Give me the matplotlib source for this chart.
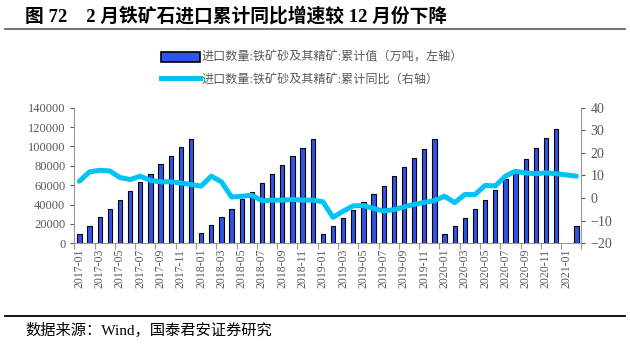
# -*- coding: utf-8 -*-
import matplotlib
matplotlib.use("Agg")
import matplotlib.pyplot as plt
import numpy as np
import pandas as pd
from matplotlib.lines import Line2D
from matplotlib.patches import Patch

months = [d.strftime("%Y-%m") for d in pd.date_range("2017-01", "2021-02", freq="MS")]

# cumulative imports (10k tonnes), 2021-01 not reported
cum_value = [9300, 17900, 27500, 35400, 44700, 54000, 63000, 71500, 81900, 90100, 99400, 108000,
             10300, 18900, 27200, 35400, 45400, 53300, 62600, 71500, 80800, 89800, 98700, 107400,
             9300, 17900, 26500, 34400, 43000, 50600, 59500, 69200, 79100, 88400, 97400, 107400,
             9300, 17900, 26500, 35800, 44400, 55000, 66200, 75300, 87400, 98000, 108400, 117700,
             None, 18200]
# cumulative yoy (%)
cum_yoy = [7.5, 11.6, 12.3, 12.0, 9.1, 8.2, 9.7, 7.8, 7.2, 7.2, 6.7, 6.0,
           5.3, 9.7, 7.2, 0.5, 0.8, 1.3, -1.2, -0.9, -0.9, -0.6, -0.9, -0.9,
           -1.6, -8.5, -5.8, -3.4, -3.3, -4.6, -5.7, -5.1, -3.9, -2.8, -1.9, -1.1,
           0.8, -2.0, 1.6, 1.6, 5.6, 5.4, 9.7, 11.9, 11.1, 10.8, 11.2, 10.8,
           None, 9.7]

bar_label = "进口数量:铁矿砂及其精矿:累计值（万吨，左轴）"
line_label = "进口数量:铁矿砂及其精矿:累计同比（右轴）"
title = "图 72    2 月铁矿石进口累计同比增速较 12 月份下降"
source = "数据来源：Wind，国泰君安证券研究"

fonts = ["Liberation Serif", "Noto Sans CJK SC"]
plt.rcParams["font.family"] = fonts
grey = "#595959"
bar_color = "#2f55e8"
line_color = "#00c3f5"

fig = plt.figure(figsize=(6.3, 3.44), dpi=100)
ax = fig.add_axes([0.118, 0.2927, 0.805, 0.3943])

x = np.arange(len(months))
bx = [i for i, v in zip(x, cum_value) if v is not None]
bv = [v for v in cum_value if v is not None]
ax.bar(bx, bv, width=0.42, color=bar_color, edgecolor="black", linewidth=0.8, zorder=2)

ax.set_xlim(-0.5, len(months) - 0.5)
ax.set_ylim(0, 140000)
ax.set_yticks(np.arange(0, 140001, 20000))
ax.tick_params(axis="y", labelsize=9, colors=grey, length=3, width=0.8)

ax.set_xticks(np.arange(-0.5, len(months), 2))
ax.set_xticklabels([])
ax.tick_params(axis="x", which="major", length=4, color="#999999", width=0.8)
ax.set_xticks(x[::2], minor=True)
ax.set_xticklabels(months[::2], minor=True, rotation=90, fontsize=8.5, color=grey)
ax.tick_params(axis="x", which="minor", length=0, pad=4)

for s in ["top", "right"]:
    ax.spines[s].set_visible(False)
for s in ["left", "bottom"]:
    ax.spines[s].set_color("#999999")
    ax.spines[s].set_linewidth(0.8)

ax2 = ax.twinx()
lx = [i for i, v in zip(x, cum_yoy) if v is not None]
lv = [v for v in cum_yoy if v is not None]
ax2.plot(lx, lv, color=line_color, linewidth=3.6, solid_joinstyle="round", solid_capstyle="round")
ax2.set_ylim(-20, 40)
ax2.set_yticks(np.arange(-20, 41, 10))
ax2.tick_params(axis="y", labelsize=10, colors=grey, length=3, width=0.8)
for s in ["top", "left", "bottom"]:
    ax2.spines[s].set_visible(False)
ax2.spines["right"].set_color("#999999")
ax2.spines["right"].set_linewidth(0.8)

handles = [Patch(facecolor=bar_color, edgecolor="black", linewidth=1.2),
           Line2D([], [], color=line_color, linewidth=3.6)]
fig.legend(handles, [bar_label, line_label], loc="upper left",
           bbox_to_anchor=(150 / 630, 1 - 41 / 344), frameon=False,
           fontsize=8.7, handlelength=3.2, handleheight=0.85, labelspacing=0.8,
           handletextpad=0.2, labelcolor=grey)

fig.text(25 / 630, 1 - 16 / 344, title, fontsize=13.5, fontweight="bold",
         va="center", ha="left", color="black")
fig.add_artist(Line2D([0.008, 0.992], [1 - 29 / 344] * 2, color="#666666", lw=1.3))
fig.add_artist(Line2D([0.008, 0.992], [1 - 316 / 344] * 2, color="black", lw=1.3))
fig.text(25 / 630, 1 - 330 / 344, source, fontsize=11, va="center", ha="left", color="black")

fig.savefig("out.png", dpi=100)
